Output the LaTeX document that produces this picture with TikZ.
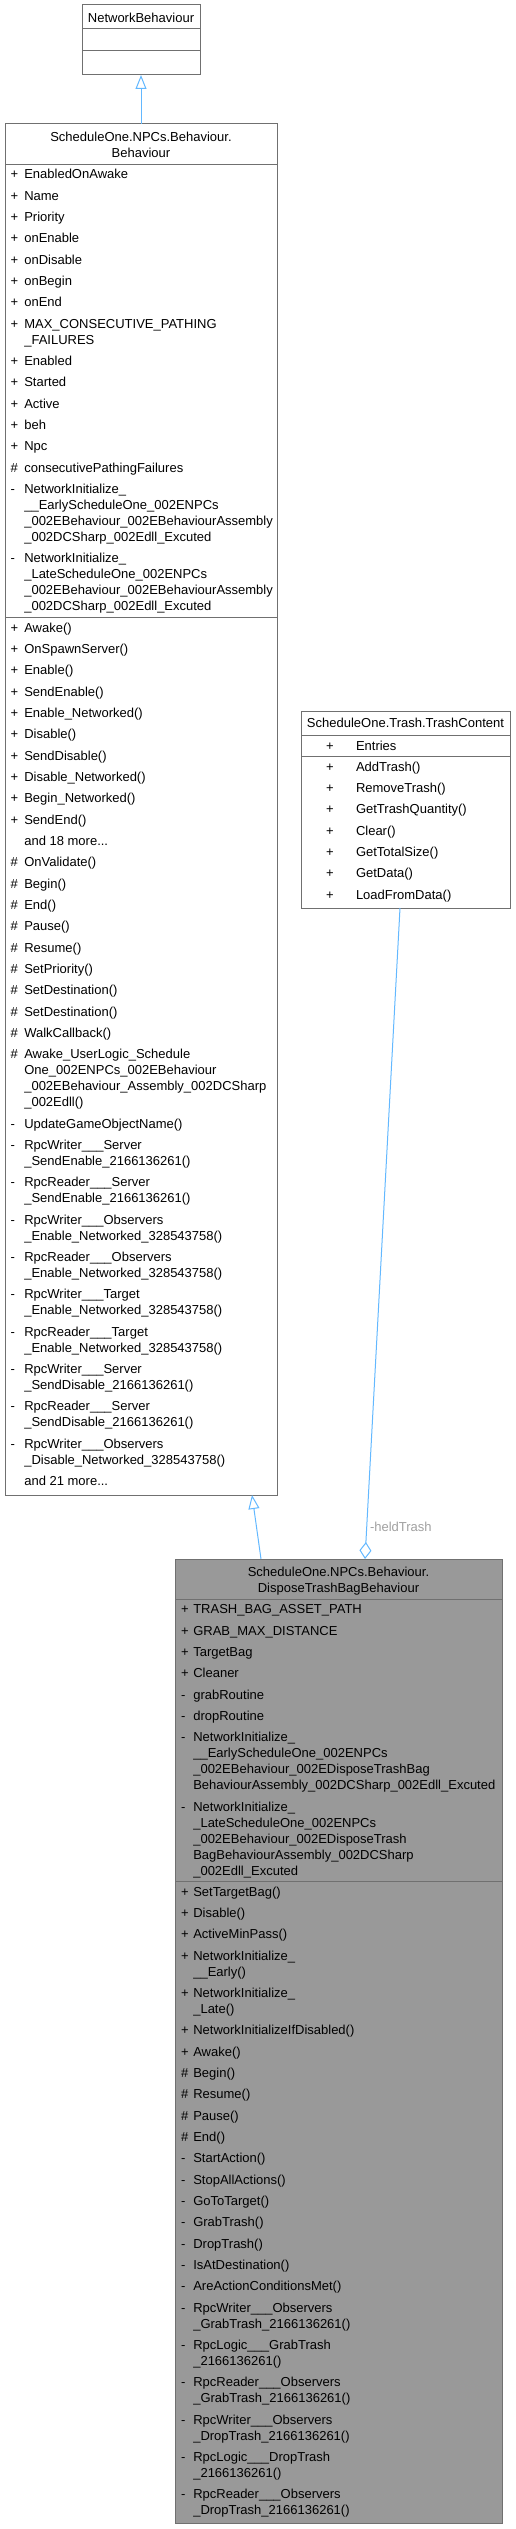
\documentclass[tikz,border=0pt]{standalone}
\usepackage{fontspec}
\setmainfont{Liberation Sans}
\usetikzlibrary{arrows.meta}
\definecolor{edgeblue}{HTML}{63B8FF}
\definecolor{boxgray}{HTML}{707070}
\definecolor{fillgray}{HTML}{999999}
\definecolor{labgray}{HTML}{A0A0A0}
\newcommand\setcol[3]{\def\symx{#1}\def\namex{#2}\def\cury{#3}}
\newcommand\Ritem[3]{%
  \node[txt] (#1s) at (\symx,\cury+4.5) {#2};
  \node[txt] (#1) at (\namex,\cury+4.5) {#3};
  \pgfmathsetmacro\cury{\cury+21.333}}
\newcommand\Nitem[2]{%
  \node[txt] (#1) at (\namex,\cury+4.5) {#2};
  \pgfmathsetmacro\cury{\cury+21.333}}
\newcommand\Citem[2]{%
  \node[txt] (#1) at (\namex,\cury-0.833) {#2};
  \pgfmathsetmacro\cury{\cury+16}}
\begin{document}
\begin{tikzpicture}[x=1pt,y=-1pt,
  txt/.style={inner sep=0pt,outer sep=0pt,font=\fontsize{13}{16}\selectfont,anchor=base west,text=black},
  ctxt/.style={inner sep=0pt,outer sep=0pt,font=\fontsize{13}{16}\selectfont,anchor=base,text=black},
  part/.style={rectangle,draw=boxgray,line width=1pt,inner sep=0pt,outer sep=0pt,anchor=north west,fill=white},
  cur/.style={part,fill=fillgray},
  inh/.style={draw=edgeblue,line width=1pt,-{Triangle[length=14pt,width=11pt,fill=white]}},
  agg/.style={draw=edgeblue,line width=1pt,{Diamond[length=17pt,width=12pt,fill=white]}-}]
\useasboundingbox (0,0) rectangle (515,2529);

% NetworkBehaviour
\node[part,minimum width=118,minimum height=24] (nbh) at (82,5) {};
\node[part,minimum width=118,minimum height=22] (nba) at (82,29) {};
\node[part,minimum width=118,minimum height=24] (nbm) at (82,51) {};
\node[ctxt] (nbt) at (141,22.8) {NetworkBehaviour};

% Behaviour
\node[part,minimum width=272,minimum height=40] (bh) at (5,124) {};
\node[part,minimum width=272,minimum height=453.3] (ba) at (5,164) {};
\node[part,minimum width=272,minimum height=877.7] (bm) at (5,617.3) {};
\node[ctxt] (bt1) at (141,141.8) {ScheduleOne.NPCs.Behaviour.};
\node[ctxt] (bt2) at (141,157.8) {Behaviour};

\setcol{10.5}{24.3}{174.3}
\Ritem{ba1}{+}{EnabledOnAwake}
\Ritem{ba2}{+}{Name}
\Ritem{ba3}{+}{Priority}
\Ritem{ba4}{+}{onEnable}
\Ritem{ba5}{+}{onDisable}
\Ritem{ba6}{+}{onBegin}
\Ritem{ba7}{+}{onEnd}
\Ritem{ba8}{+}{MAX\_CONSECUTIVE\_PATHING}
\Citem{ba8b}{\_FAILURES}
\Ritem{ba9}{+}{Enabled}
\Ritem{ba10}{+}{Started}
\Ritem{ba11}{+}{Active}
\Ritem{ba12}{+}{beh}
\Ritem{ba13}{+}{Npc}
\Ritem{ba14}{\#}{consecutivePathingFailures}
\Ritem{ba15}{-}{NetworkInitialize\_}
\Citem{ba15b}{\_\_EarlyScheduleOne\_002ENPCs}
\Citem{ba15c}{\_002EBehaviour\_002EBehaviourAssembly}
\Citem{ba15d}{\_002DCSharp\_002Edll\_Excuted}
\Ritem{ba16}{-}{NetworkInitialize\_}
\Citem{ba16b}{\_LateScheduleOne\_002ENPCs}
\Citem{ba16c}{\_002EBehaviour\_002EBehaviourAssembly}
\Citem{ba16d}{\_002DCSharp\_002Edll\_Excuted}

\setcol{10.5}{24.3}{627.7}
\Ritem{bm1}{+}{Awake()}
\Ritem{bm2}{+}{OnSpawnServer()}
\Ritem{bm3}{+}{Enable()}
\Ritem{bm4}{+}{SendEnable()}
\Ritem{bm5}{+}{Enable\_Networked()}
\Ritem{bm6}{+}{Disable()}
\Ritem{bm7}{+}{SendDisable()}
\Ritem{bm8}{+}{Disable\_Networked()}
\Ritem{bm9}{+}{Begin\_Networked()}
\Ritem{bm10}{+}{SendEnd()}
\Nitem{bm11}{and 18 more...}
\Ritem{bm12}{\#}{OnValidate()}
\Ritem{bm13}{\#}{Begin()}
\Ritem{bm14}{\#}{End()}
\Ritem{bm15}{\#}{Pause()}
\Ritem{bm16}{\#}{Resume()}
\Ritem{bm17}{\#}{SetPriority()}
\Ritem{bm18}{\#}{SetDestination()}
\Ritem{bm19}{\#}{SetDestination()}
\Ritem{bm20}{\#}{WalkCallback()}
\Ritem{bm21}{\#}{Awake\_UserLogic\_Schedule}
\Citem{bm21b}{One\_002ENPCs\_002EBehaviour}
\Citem{bm21c}{\_002EBehaviour\_Assembly\_002DCSharp}
\Citem{bm21d}{\_002Edll()}
\Ritem{bm22}{-}{UpdateGameObjectName()}
\Ritem{bm23}{-}{RpcWriter\_\_\_Server}
\Citem{bm23b}{\_SendEnable\_2166136261()}
\Ritem{bm24}{-}{RpcReader\_\_\_Server}
\Citem{bm24b}{\_SendEnable\_2166136261()}
\Ritem{bm25}{-}{RpcWriter\_\_\_Observers}
\Citem{bm25b}{\_Enable\_Networked\_328543758()}
\Ritem{bm26}{-}{RpcReader\_\_\_Observers}
\Citem{bm26b}{\_Enable\_Networked\_328543758()}
\Ritem{bm27}{-}{RpcWriter\_\_\_Target}
\Citem{bm27b}{\_Enable\_Networked\_328543758()}
\Ritem{bm28}{-}{RpcReader\_\_\_Target}
\Citem{bm28b}{\_Enable\_Networked\_328543758()}
\Ritem{bm29}{-}{RpcWriter\_\_\_Server}
\Citem{bm29b}{\_SendDisable\_2166136261()}
\Ritem{bm30}{-}{RpcReader\_\_\_Server}
\Citem{bm30b}{\_SendDisable\_2166136261()}
\Ritem{bm31}{-}{RpcWriter\_\_\_Observers}
\Citem{bm31b}{\_Disable\_Networked\_328543758()}
\Nitem{bm32}{and 21 more...}

% TrashContent
\node[part,minimum width=209,minimum height=24] (tch) at (301,711) {};
\node[part,minimum width=209,minimum height=21] (tca) at (301,735) {};
\node[part,minimum width=209,minimum height=152] (tcm) at (301,756) {};
\node[ctxt] (tct) at (405.5,727.5) {ScheduleOne.Trash.TrashContent};
\setcol{326}{356}{745.7}
\Ritem{ta1}{+}{Entries}
\setcol{326}{356}{766.7}
\Ritem{tm1}{+}{AddTrash()}
\Ritem{tm2}{+}{RemoveTrash()}
\Ritem{tm3}{+}{GetTrashQuantity()}
\Ritem{tm4}{+}{Clear()}
\Ritem{tm5}{+}{GetTotalSize()}
\Ritem{tm6}{+}{GetData()}
\Ritem{tm7}{+}{LoadFromData()}

% DisposeTrashBagBehaviour
\node[cur,minimum width=327,minimum height=40] (dh) at (175,1559) {};
\node[cur,minimum width=327,minimum height=282.3] (da) at (175,1599) {};
\node[cur,minimum width=327,minimum height=641.7] (dm) at (175,1881.3) {};
\node[ctxt] (dt1) at (338.5,1576.2) {ScheduleOne.NPCs.Behaviour.};
\node[ctxt] (dt2) at (338.5,1592.2) {DisposeTrashBagBehaviour};

\setcol{181}{193.3}{1609.3}
\Ritem{da1}{+}{TRASH\_BAG\_ASSET\_PATH}
\Ritem{da2}{+}{GRAB\_MAX\_DISTANCE}
\Ritem{da3}{+}{TargetBag}
\Ritem{da4}{+}{Cleaner}
\Ritem{da5}{-}{grabRoutine}
\Ritem{da6}{-}{dropRoutine}
\Ritem{da7}{-}{NetworkInitialize\_}
\Citem{da7b}{\_\_EarlyScheduleOne\_002ENPCs}
\Citem{da7c}{\_002EBehaviour\_002EDisposeTrashBag}
\Citem{da7d}{BehaviourAssembly\_002DCSharp\_002Edll\_Excuted}
\Ritem{da8}{-}{NetworkInitialize\_}
\Citem{da8b}{\_LateScheduleOne\_002ENPCs}
\Citem{da8c}{\_002EBehaviour\_002EDisposeTrash}
\Citem{da8d}{BagBehaviourAssembly\_002DCSharp}
\Citem{da8e}{\_002Edll\_Excuted}

\setcol{181}{193.3}{1891.7}
\Ritem{dm1}{+}{SetTargetBag()}
\Ritem{dm2}{+}{Disable()}
\Ritem{dm3}{+}{ActiveMinPass()}
\Ritem{dm4}{+}{NetworkInitialize\_}
\Citem{dm4b}{\_\_Early()}
\Ritem{dm5}{+}{NetworkInitialize\_}
\Citem{dm5b}{\_Late()}
\Ritem{dm6}{+}{NetworkInitializeIfDisabled()}
\Ritem{dm7}{+}{Awake()}
\Ritem{dm8}{\#}{Begin()}
\Ritem{dm9}{\#}{Resume()}
\Ritem{dm10}{\#}{Pause()}
\Ritem{dm11}{\#}{End()}
\Ritem{dm12}{-}{StartAction()}
\Ritem{dm13}{-}{StopAllActions()}
\Ritem{dm14}{-}{GoToTarget()}
\Ritem{dm15}{-}{GrabTrash()}
\Ritem{dm16}{-}{DropTrash()}
\Ritem{dm17}{-}{IsAtDestination()}
\Ritem{dm18}{-}{AreActionConditionsMet()}
\Ritem{dm19}{-}{RpcWriter\_\_\_Observers}
\Citem{dm19b}{\_GrabTrash\_2166136261()}
\Ritem{dm20}{-}{RpcLogic\_\_\_GrabTrash}
\Citem{dm20b}{\_2166136261()}
\Ritem{dm21}{-}{RpcReader\_\_\_Observers}
\Citem{dm21b}{\_GrabTrash\_2166136261()}
\Ritem{dm22}{-}{RpcWriter\_\_\_Observers}
\Citem{dm22b}{\_DropTrash\_2166136261()}
\Ritem{dm23}{-}{RpcLogic\_\_\_DropTrash}
\Citem{dm23b}{\_2166136261()}
\Ritem{dm24}{-}{RpcReader\_\_\_Observers}
\Citem{dm24b}{\_DropTrash\_2166136261()}

% connectors
\draw[inh] (bh.north) -- (nbm.south);
\draw[inh] ([xshift=86pt]dh.north west) -- ([xshift=247pt]bm.south west);
\draw[agg] ([xshift=190pt]dh.north west) -- ([xshift=99pt]tcm.south west);
\node[txt,text=labgray] (lbl) at (370,1531) {-heldTrash};
\end{tikzpicture}
\end{document}
